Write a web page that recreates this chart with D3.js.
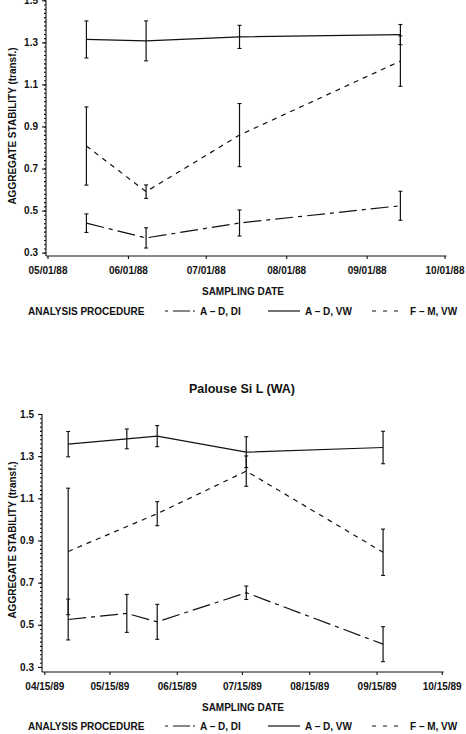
<!DOCTYPE html>
<html>
<head>
<meta charset="utf-8">
<title>Aggregate stability</title>
<script src="https://cdnjs.cloudflare.com/ajax/libs/d3/7.8.5/d3.min.js"></script>
<style>
    body { margin: 0; background: #fff; }
    svg { display: block; }
    text { font-family: "Liberation Sans", Arial, sans-serif; font-weight: bold; fill: #111; }
    .axis path, .axis line { stroke: #111; stroke-width: 1.1; }
    .axis text { font-size: 10px; }
</style>
</head>
<body>
<script>
    // ---- data ----
    var yTicks = [0.3, 0.5, 0.7, 0.9, 1.1, 1.3, 1.5];

    // upper panel (1988)
    var dates88 = ["1988-05-16", "1988-06-08", "1988-07-14", "1988-09-14"];
    var ticks88 = ["1988-05-01", "1988-06-01", "1988-07-01", "1988-08-01", "1988-09-01", "1988-10-01"];
    var adDI88 = [0.440, 0.370, 0.441, 0.523];
    var adDI88Err = [0.044, 0.048, 0.062, 0.069];
    var adVW88 = [1.314, 1.307, 1.326, 1.337];
    var adVW88Err = [0.088, 0.095, 0.055, 0.048];
    var fmVW88 = [0.807, 0.590, 0.859, 1.211];
    var fmVW88Err = [0.186, 0.032, 0.150, 0.120];

    // lower panel, Palouse Si L (WA), 1989
    var dates89 = ["1989-04-26", "1989-05-23", "1989-06-06", "1989-07-17", "1989-09-18"];
    var fmDates89 = ["1989-04-26", "1989-06-06", "1989-07-17", "1989-09-18"];
    var ticks89 = ["1989-04-15", "1989-05-15", "1989-06-15", "1989-07-15", "1989-08-15", "1989-09-15", "1989-10-15"];
    var adDI89 = [0.525, 0.554, 0.514, 0.652, 0.408];
    var adDI89Err = [0.097, 0.090, 0.083, 0.032, 0.083];
    var adVW89 = [1.357, 1.382, 1.395, 1.319, 1.341];
    var adVW89Err = [0.060, 0.047, 0.050, 0.073, 0.077];
    var fmVW89 = [0.848, 1.027, 1.229, 0.844];
    var fmVW89Err = [0.300, 0.057, 0.072, 0.110];

    var legendNames = ["A \u2013 D, DI", "A \u2013 D, VW", "F \u2013 M, VW"];
    var dashes = ["18,5,4,5", null, "5,5"];
    var legendDashes = ["3,5,17", null, "4,7"];

    var width = 466, height = 734;
    var parse = d3.timeParse("%Y-%m-%d");
    var fmt = d3.timeFormat("%m/%d/%y");

    var svg = d3.select("body").append("svg")
        .attr("width", width)
        .attr("height", height);

    function series(dates, vals, errs, dash){
        return {
            dash: dash,
            points: vals.map(function(v, i){
                return {date: parse(dates[i]), v: v, e: errs[i]};
            })
        };
    }

    drawPanel({
        yAxisX: 46, x0: 47.5, x1: 444.5, yBottom: 256, yTop: 0.3, yMin: 0.284,
        ticks: ticks88, title: null, labelY: 126, legendY: 311,
        series: [
            series(dates88, adDI88, adDI88Err, dashes[0]),
            series(dates88, adVW88, adVW88Err, dashes[1]),
            series(dates88, fmVW88, fmVW88Err, dashes[2])
        ]
    });

    drawPanel({
        yAxisX: 42, x0: 44.3, x1: 441.7, yBottom: 672, yTop: 414, yMin: 0.276,
        ticks: ticks89, title: "Palouse Si L (WA)", titleY: 393, labelY: 540, legendY: 726,
        series: [
            series(dates89, adDI89, adDI89Err, dashes[0]),
            series(dates89, adVW89, adVW89Err, dashes[1]),
            series(fmDates89, fmVW89, fmVW89Err, dashes[2])
        ]
    });

    function drawPanel(c){
        var tickDates = c.ticks.map(parse);
        var x = d3.scaleTime()
            .domain([tickDates[0], tickDates[tickDates.length - 1]])
            .range([c.x0, c.x1]);
        var y = d3.scaleLinear()
            .domain([c.yMin, 1.5])
            .range([c.yBottom, c.yTop]);

        var g = svg.append("g");

        // minor ticks on the y axis
        g.append("g")
            .attr("class", "axis")
            .attr("transform", "translate(" + c.yAxisX + ",0)")
            .call(d3.axisLeft(y).tickValues(d3.range(0.3, 1.5001, 0.02)).tickSize(2).tickFormat(""))
            .call(function(a){ a.select(".domain").remove(); });

        var yAxis = g.append("g")
            .attr("class", "axis")
            .attr("transform", "translate(" + c.yAxisX + ",0)")
            .call(d3.axisLeft(y).tickValues(yTicks).tickSize(4).tickPadding(4)
                .tickSizeOuter(0).tickFormat(d3.format(".1f")));
        yAxis.select(".domain").attr("d", "M0," + y(1.5) + "V" + c.yBottom);

        var xAxis = g.append("g")
            .attr("class", "axis")
            .attr("transform", "translate(0," + c.yBottom + ")")
            .call(d3.axisBottom(x).tickValues(tickDates).tickSize(3).tickPadding(8)
                .tickSizeOuter(0).tickFormat(fmt));
        xAxis.select(".domain").attr("d", "M" + c.yAxisX + ",0H" + (c.x1 + 2));
        xAxis.selectAll("text").attr("dy", "0.71em");

        g.append("text")
            .attr("x", 243).attr("y", c.yBottom + 39)
            .attr("text-anchor", "middle")
            .style("font-size", "10px")
            .text("SAMPLING DATE");

        g.append("text")
            .attr("transform", "translate(16," + c.labelY + ") rotate(-90)")
            .attr("text-anchor", "middle")
            .style("font-size", "10px")
            .text("AGGREGATE STABILITY (transf.)");

        if (c.title) {
            g.append("text")
                .attr("x", 242).attr("y", c.titleY)
                .attr("text-anchor", "middle")
                .style("font-size", "12.5px")
                .text(c.title);
        }

        var line = d3.line()
            .x(function(d){ return x(d.date); })
            .y(function(d){ return y(d.v); });

        c.series.forEach(function(s){
            g.append("path")
                .attr("d", line(s.points))
                .attr("fill", "none")
                .attr("stroke", "#111")
                .attr("stroke-width", 1.2)
                .attr("stroke-dasharray", s.dash);

            var bars = g.append("g").selectAll("g")
                .data(s.points)
                .enter().append("g");
            bars.append("line")
                .attr("x1", function(d){ return x(d.date); })
                .attr("x2", function(d){ return x(d.date); })
                .attr("y1", function(d){ return y(d.v + d.e); })
                .attr("y2", function(d){ return y(d.v - d.e); })
                .attr("stroke", "#111").attr("stroke-width", 1.2);
            [1, -1].forEach(function(sign){
                bars.append("line")
                    .attr("x1", function(d){ return x(d.date) - 2; })
                    .attr("x2", function(d){ return x(d.date) + 2; })
                    .attr("y1", function(d){ return y(d.v + sign * d.e); })
                    .attr("y2", function(d){ return y(d.v + sign * d.e); })
                    .attr("stroke", "#111").attr("stroke-width", 1.1);
            });
        });

        // legend
        var lg = g.append("g").attr("transform", "translate(0," + c.legendY + ")");
        lg.append("text").attr("x", 28).attr("y", 3.5)
            .style("font-size", "10px").text("ANALYSIS PROCEDURE");
        var sampleX = [165, 268, 372];
        var sampleW = [30, 32, 26];
        legendNames.forEach(function(name, i){
            lg.append("line")
                .attr("x1", sampleX[i]).attr("x2", sampleX[i] + sampleW[i])
                .attr("y1", 0).attr("y2", 0)
                .attr("stroke", "#111").attr("stroke-width", 1.2)
                .attr("stroke-dasharray", legendDashes[i]);
            lg.append("text")
                .attr("x", [200, 305, 410][i]).attr("y", 3.5)
                .style("font-size", "10px")
                .text(name);
        });
    }
</script>
</body>
</html>
